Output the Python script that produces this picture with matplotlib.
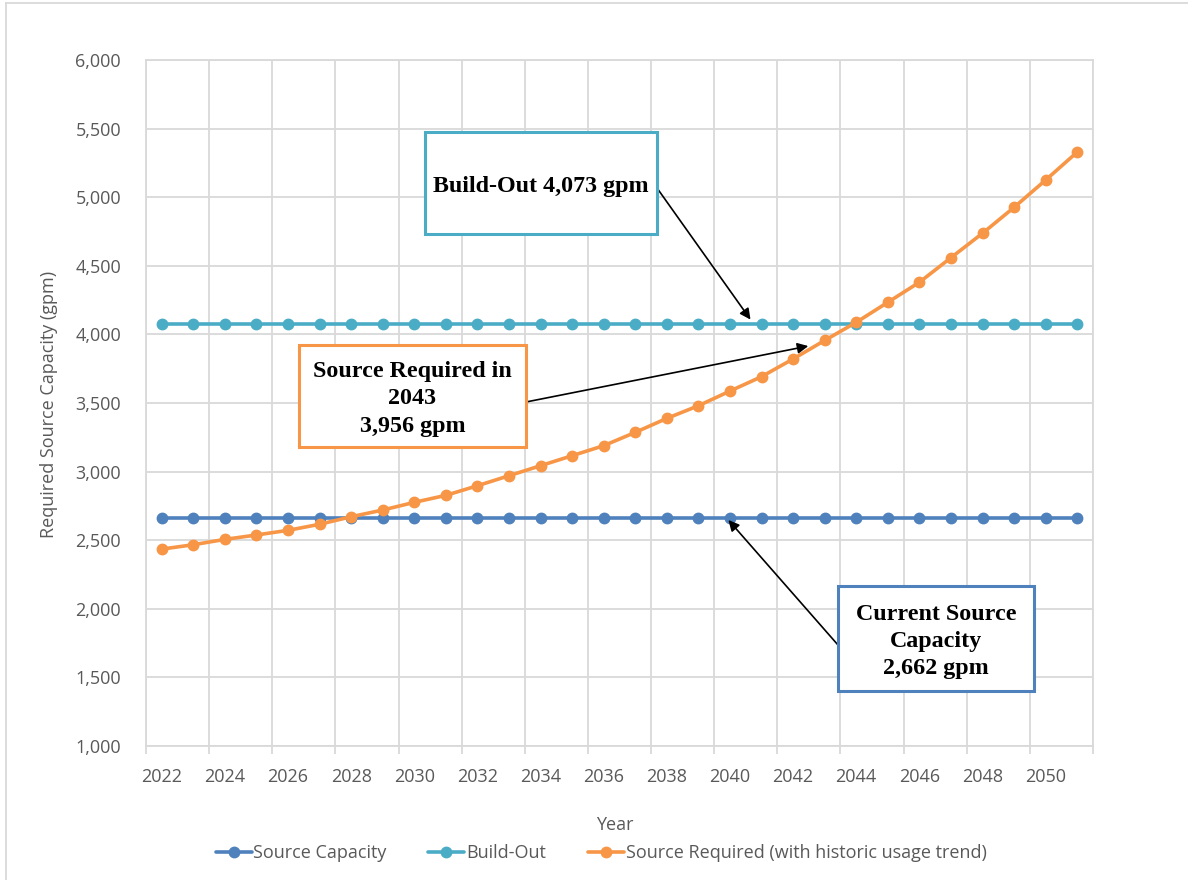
import matplotlib
matplotlib.use("Agg")
import matplotlib.pyplot as plt
from matplotlib.patches import Rectangle
from matplotlib.lines import Line2D
from matplotlib.ticker import FuncFormatter, FixedLocator

plt.rcParams['font.family'] = ['Open Sans', 'DejaVu Sans']

# yearly planning values (gpm)
years = list(range(2022, 2052))
source_capacity = [2662] * len(years)
build_out = [4073] * len(years)
source_required = [2435, 2467, 2506, 2538, 2572, 2616, 2671, 2720, 2776, 2827,
                   2897, 2970, 3043, 3116, 3189, 3286, 3388, 3480, 3587, 3692,
                   3821, 3956, 4088, 4234, 4380, 4559, 4737, 4926, 5125, 5329]
series_labels = ["Source Capacity", "Build-Out", "Source Required (with historic usage trend)"]
series_colors = ["#4F81BD", "#4BACC6", "#F79646"]

W, H = 1188, 880
grid_c = "#D9D9D9"
text_c = "#595959"
fs = 13


def fx(x):
    return x / W


def fy(y):
    return 1 - y / H


fig = plt.figure(figsize=(W / 100, H / 100), dpi=100)
ax = fig.add_axes([fx(146), fy(746), fx(1093 - 146), (746 - 60) / H])

idx = list(range(len(years)))
for vals, lab, col in zip([source_capacity, build_out, source_required], series_labels, series_colors):
    ax.plot(idx, vals, color=col, lw=2.6, marker='o', markersize=7.5,
            markeredgecolor=col, label=lab, zorder=3, solid_capstyle='round')

ax.set_xlim(-0.5, len(years) - 0.5)
ax.set_ylim(1000, 6000)
ax.set_yticks(range(1000, 6001, 500))
ax.yaxis.set_major_formatter(FuncFormatter(lambda v, p: f"{int(v):,}"))
ax.set_xticks(idx[::2])
ax.set_xticklabels([str(y) for y in years[::2]])
ax.xaxis.set_minor_locator(FixedLocator([i - 0.5 for i in range(0, len(years) + 1, 2)]))

ax.tick_params(axis='both', which='major', length=0, labelsize=fs, labelcolor=text_c)
ax.tick_params(axis='y', pad=18)
ax.tick_params(axis='x', pad=16)
ax.tick_params(axis='x', which='minor', length=6, width=1.3, color=grid_c)
ax.grid(axis='y', which='major', color=grid_c, lw=1.3)
ax.grid(axis='x', which='minor', color=grid_c, lw=1.3)
ax.grid(axis='x', which='major', visible=False)
ax.set_axisbelow(True)
for s in ax.spines.values():
    s.set_color(grid_c)
    s.set_linewidth(1.3)

fig.text(fx(615), fy(825), "Year", ha='center', va='center', fontsize=fs, color=text_c)
fig.text(fx(49), fy(404), "Required Source Capacity (gpm)", rotation=90,
         ha='center', va='center', fontsize=fs, color=text_c)

fig.legend(loc='center', bbox_to_anchor=(fx(601), fy(853)), ncol=3, frameon=False,
           handlelength=2.0, handletextpad=0.1, columnspacing=2.3,
           fontsize=fs, labelcolor=text_c)

# chart border
fig.add_artist(Line2D([fx(6), fx(6)], [0, fy(3)], color=grid_c, lw=1.3))
fig.add_artist(Line2D([fx(6), 1], [fy(3), fy(3)], color=grid_c, lw=1.3))

# callout boxes
serif = dict(family='Liberation Serif', fontweight='bold', fontsize=17.3, color='black')
callouts = [
    ((425, 132, 657, 234), series_colors[1], "Build-Out 4,073 gpm"),
    ((299, 345, 526, 447), series_colors[2], "Source Required in\n2043\n3,956 gpm"),
    ((838, 586, 1034, 691), series_colors[0], "Current Source\nCapacity\n2,662 gpm"),
]
for (x0, y0, x1, y1), col, txt in callouts:
    fig.add_artist(Rectangle((fx(x0), fy(y1)), fx(x1 - x0), (y1 - y0) / H,
                             transform=fig.transFigure, facecolor='white',
                             edgecolor=col, lw=2.2, zorder=5))
    fig.text(fx((x0 + x1) / 2), fy((y0 + y1) / 2 + 3), txt, ha='center', va='center',
             linespacing=1.4, zorder=6, **serif)

arrow = dict(arrowstyle='-|>', color='black', lw=1.2, mutation_scale=16, shrinkA=0, shrinkB=0)
ax.annotate('', xy=(18.65, build_out[0] + 35), xytext=(fx(657), fy(188)),
            textcoords='figure fraction', arrowprops=arrow, annotation_clip=False, zorder=4)
ax.annotate('', xy=(20.48, 3915), xytext=(fx(526), fy(402)),
            textcoords='figure fraction', arrowprops=arrow, annotation_clip=False, zorder=4)
ax.annotate('', xy=(17.95, source_capacity[0] - 15), xytext=(fx(838), fy(645)),
            textcoords='figure fraction', arrowprops=arrow, annotation_clip=False, zorder=4)

fig.savefig("out.png", dpi=100)
